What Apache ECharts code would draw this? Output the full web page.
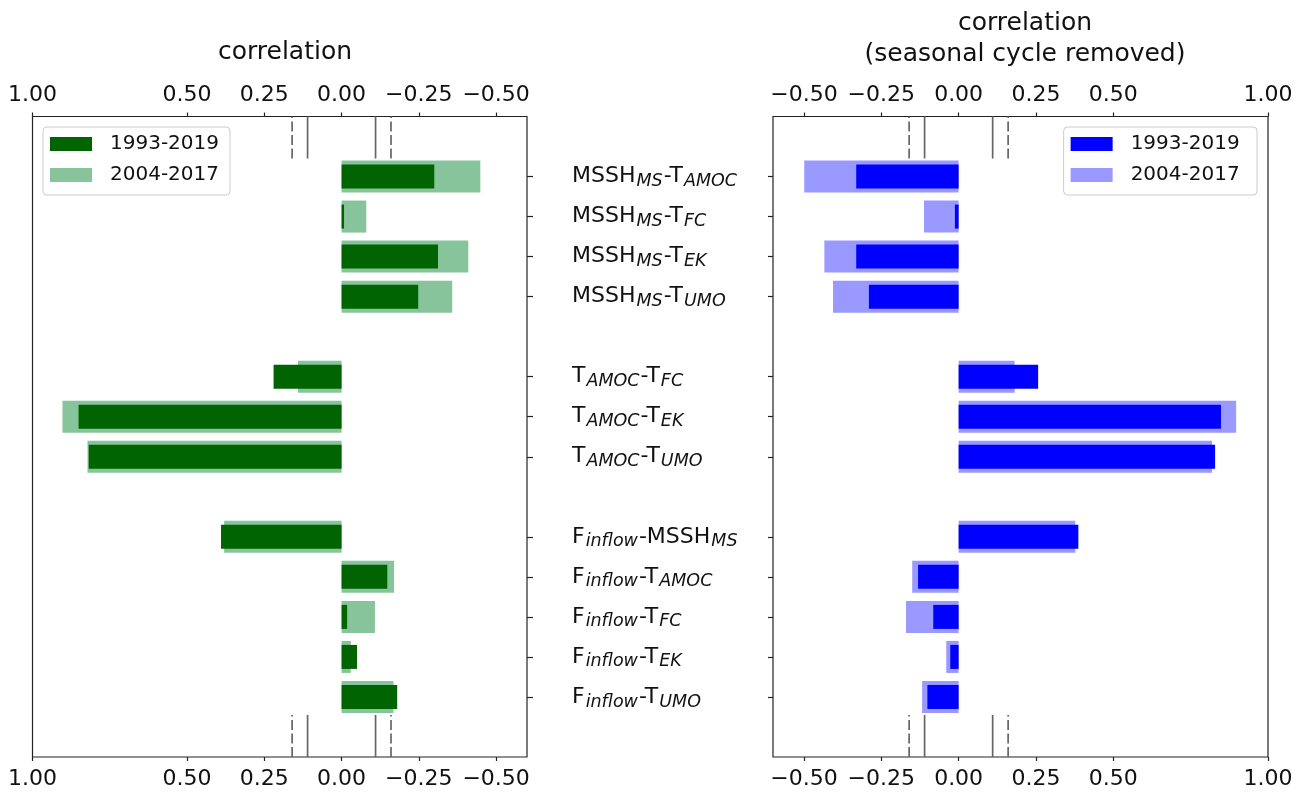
<!DOCTYPE html>
<html>
<head>
<meta charset="utf-8">
<script src="https://cdn.jsdelivr.net/npm/echarts@6/dist/echarts.min.js"></script>
<style>html,body{margin:0;padding:0;background:#fff;}#c{width:1302px;height:792px;}</style>
</head>
<body>
<div id="c"></div>
<script>
// ---- data ----
const rowPos = [0, 1, 2, 3, 5, 6, 7, 9, 10, 11, 12, 13];
const rowLabels = [
  [['MSSH', 'MS'], ['T', 'AMOC']],
  [['MSSH', 'MS'], ['T', 'FC']],
  [['MSSH', 'MS'], ['T', 'EK']],
  [['MSSH', 'MS'], ['T', 'UMO']],
  [['T', 'AMOC'], ['T', 'FC']],
  [['T', 'AMOC'], ['T', 'EK']],
  [['T', 'AMOC'], ['T', 'UMO']],
  [['F', 'inflow'], ['MSSH', 'MS']],
  [['F', 'inflow'], ['T', 'AMOC']],
  [['F', 'inflow'], ['T', 'FC']],
  [['F', 'inflow'], ['T', 'EK']],
  [['F', 'inflow'], ['T', 'UMO']]
];
const periods = ['1993-2019', '2004-2017'];
const corrFull = [-0.300, -0.008, -0.312, -0.248, 0.220, 0.851, 0.818, 0.390, -0.148, -0.018, -0.050, -0.180];
const corrSub  = [-0.449, -0.080, -0.410, -0.358, 0.141, 0.903, 0.822, 0.380, -0.170, -0.108, -0.030, -0.168];
const deseasFull = [-0.331, -0.012, -0.331, -0.290, 0.257, 0.848, 0.829, 0.387, -0.131, -0.082, -0.027, -0.101];
const deseasSub  = [-0.499, -0.112, -0.434, -0.406, 0.181, 0.897, 0.819, 0.377, -0.150, -0.170, -0.040, -0.118];
const xTicks = [-0.5, -0.25, 0, 0.25, 0.5, 1.0];
const sigSolid = [-0.11, 0.11];
const sigDashed = [-0.16, 0.16];

// ---- presentation ----
const FONT = 'DejaVu Sans';
const TXT = '#111';
const yMin = -1.5, yMax = 14.5;
const sigSpans = [[-1.5, -0.45], [13.45, 14.5]];

function fmtTick(v) {
  const s = Math.abs(v).toFixed(2);
  return v < 0 ? '\u2212' + s : s;
}
const labelByRow = {};
rowPos.forEach((r, i) => {
  const L = rowLabels[i];
  labelByRow[r] = '{n|' + L[0][0] + '}{s|' + L[0][1] + '}{n|-' + L[1][0] + '}{s|' + L[1][1] + '}';
});

function barRender(thick) {
  return function (params, api) {
    const v = api.value(0), r = api.value(1);
    const a = api.coord([0, r]), b = api.coord([v, r]);
    const h = api.size([0, thick])[1];
    return {
      type: 'rect',
      shape: { x: Math.min(a[0], b[0]), y: a[1] - h / 2, width: Math.abs(b[0] - a[0]), height: h },
      style: { fill: api.visual('color') }
    };
  };
}
function sigRender(params, api) {
  const x = api.value(0), y1 = api.value(1), y2 = api.value(2), d = api.value(3);
  const p1 = api.coord([x, y1]), p2 = api.coord([x, y2]);
  return {
    type: 'line',
    shape: { x1: p1[0], y1: p1[1], x2: p2[0], y2: p2[1] },
    style: { stroke: '#666', lineWidth: 1.7, lineDash: d ? [10, 3.5] : null }
  };
}
function sigData() {
  const out = [];
  sigSpans.forEach(sp => {
    sigSolid.forEach(t => out.push([t, sp[1], sp[0], 0]));
    sigDashed.forEach(t => out.push([t, sp[1], sp[0], 1]));
  });
  return out;
}
function pairs(vals) { return vals.map((v, i) => [v, rowPos[i]]); }

function xAx(grid, pos, inverse) {
  return {
    type: 'value', gridIndex: grid, position: pos, min: -0.6, max: 1.0, inverse: inverse,
    splitLine: { show: false },
    axisLine: { show: false, onZero: false },
    axisTick: { show: true, length: 4, customValues: xTicks, lineStyle: { color: '#222', width: 1.2 } },
    axisLabel: {
      show: true, customValues: xTicks, formatter: fmtTick, margin: pos === 'top' ? 10 : 11,
      fontFamily: FONT, fontSize: 22, color: TXT
    }
  };
}
function yAx(grid, pos, showLabels, tickLen) {
  return {
    type: 'value', gridIndex: grid, position: pos, min: yMin, max: yMax, inverse: true,
    splitLine: { show: false },
    axisLine: { show: false, onZero: false },
    axisTick: { show: true, length: tickLen, customValues: rowPos, lineStyle: { color: '#222', width: 1.2 } },
    axisLabel: showLabels ? {
      show: true, customValues: rowPos, margin: 45, align: 'left',
      formatter: v => labelByRow[Math.round(v)] || '',
      rich: {
        n: { fontFamily: FONT, fontSize: 22, color: TXT, lineHeight: 28, verticalAlign: 'middle' },
        s: { fontFamily: FONT, fontSize: 17.5, fontStyle: 'italic', color: TXT, lineHeight: 15,
             verticalAlign: 'bottom', padding: [0, 1, 0, 1] }
      }
    } : { show: false }
  };
}

const DG = '#006400', LG = '#87c49b', DB = '#0000ff', LB = '#9999ff';
const legendCommon = {
  orient: 'vertical', top: 127, itemWidth: 42, itemHeight: 14, itemGap: 11, icon: 'rect',
  padding: [7, 11, 10, 7], borderColor: '#cccccc', borderWidth: 1, borderRadius: 4,
  backgroundColor: 'rgba(255,255,255,0.8)',
  textStyle: { fontFamily: FONT, fontSize: 20, color: TXT, lineHeight: 20, padding: [0, 0, 0, 13] },
  selectedMode: false
};

const option = {
  animation: false,
  backgroundColor: '#fff',
  title: [
    { text: 'correlation', left: 280, top: 35, textAlign: 'center',
      textStyle: { fontFamily: FONT, fontSize: 25, fontWeight: 'normal', color: TXT } },
    { text: 'correlation\n(seasonal cycle removed)', left: 1020, top: 3, textAlign: 'center',
      textStyle: { fontFamily: FONT, fontSize: 25, fontWeight: 'normal', color: TXT, lineHeight: 31 } }
  ],
  legend: [
    Object.assign({}, legendCommon, { left: 43, data: periods }),
    Object.assign({}, legendCommon, { right: 45, data: periods.map(p => p + ' ') })
  ],
  grid: [
    { left: 32.5, right: 775, top: 116.5, bottom: 35, show: true, borderColor: '#222', borderWidth: 1.2, backgroundColor: 'transparent' },
    { left: 773, right: 34, top: 116.5, bottom: 35, show: true, borderColor: '#222', borderWidth: 1.2, backgroundColor: 'transparent' }
  ],
  xAxis: [
    xAx(0, 'bottom', true), xAx(0, 'top', true),
    xAx(1, 'bottom', false), xAx(1, 'top', false)
  ],
  yAxis: [
    yAx(0, 'right', true, 6),
    yAx(1, 'left', false, 5)
  ],
  series: [
    { type: 'custom', name: periods[1], xAxisIndex: 0, yAxisIndex: 0, itemStyle: { color: LG },
      renderItem: barRender(0.8), encode: { x: 0, y: 1 }, data: pairs(corrSub), z: 2 },
    { type: 'custom', name: periods[0], xAxisIndex: 0, yAxisIndex: 0, itemStyle: { color: DG },
      renderItem: barRender(0.6), encode: { x: 0, y: 1 }, data: pairs(corrFull), z: 3 },
    { type: 'custom', name: periods[1] + ' ', xAxisIndex: 2, yAxisIndex: 1, itemStyle: { color: LB },
      renderItem: barRender(0.8), encode: { x: 0, y: 1 }, data: pairs(deseasSub), z: 2 },
    { type: 'custom', name: periods[0] + ' ', xAxisIndex: 2, yAxisIndex: 1, itemStyle: { color: DB },
      renderItem: barRender(0.6), encode: { x: 0, y: 1 }, data: pairs(deseasFull), z: 3 },
    { type: 'custom', name: 'sig-left', xAxisIndex: 0, yAxisIndex: 0, renderItem: sigRender,
      encode: { x: 0, y: [1, 2] }, data: sigData(), z: 1, silent: true },
    { type: 'custom', name: 'sig-right', xAxisIndex: 2, yAxisIndex: 1, renderItem: sigRender,
      encode: { x: 0, y: [1, 2] }, data: sigData(), z: 1, silent: true }
  ]
};
const chart = echarts.init(document.getElementById('c'), null, { renderer: 'canvas' });
chart.setOption(option);
</script>
</body>
</html>
